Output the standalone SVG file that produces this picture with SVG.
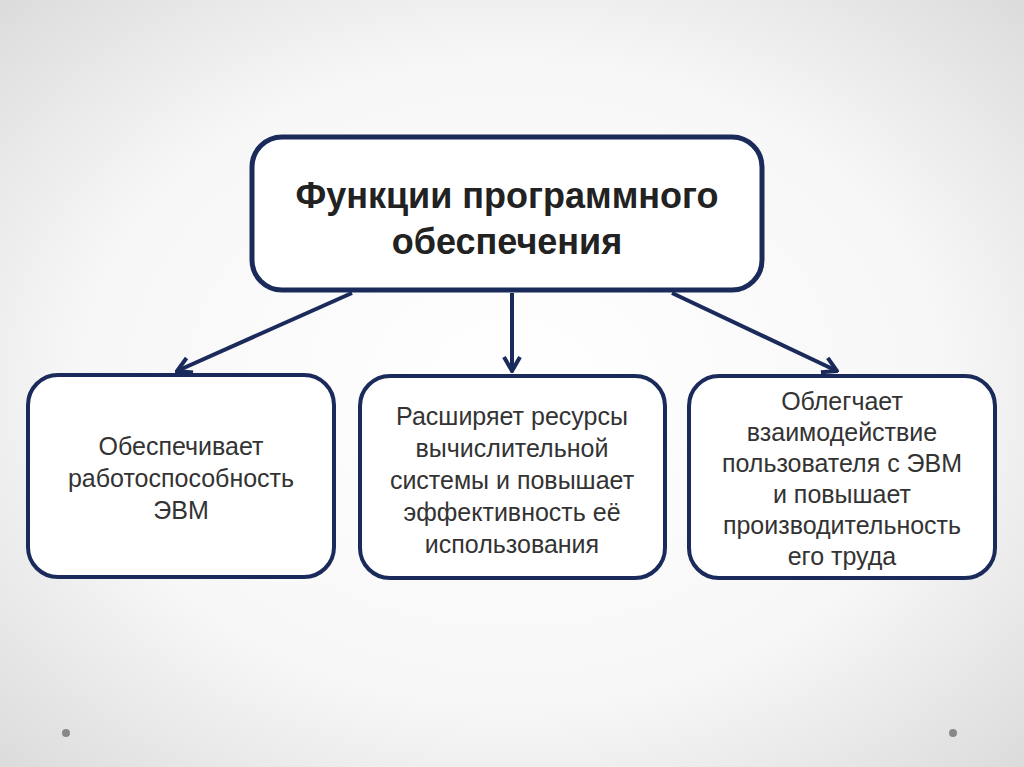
<svg xmlns="http://www.w3.org/2000/svg" width="1024" height="767" viewBox="0 0 1024 767">
<defs>
<radialGradient id="bg" cx="50%" cy="50%" r="70%">
<stop offset="0" stop-color="#ffffff"/><stop offset="0.6" stop-color="#f7f7f7"/><stop offset="1" stop-color="#dcdcdc"/>
</radialGradient>
<marker id="ah" viewBox="0 0 20 20" refX="18" refY="10" markerWidth="20" markerHeight="20" orient="auto" markerUnits="userSpaceOnUse">
<path d="M4,2 L18,10 L4,18" fill="none" stroke="#1a2a5a" stroke-width="4" stroke-linejoin="miter"/>
</marker>
<style>
.box{fill:#fff;stroke:#1a2a5a;stroke-width:4}
.t{font-family:"Liberation Sans",Arial,sans-serif;font-size:25px;fill:#333;text-anchor:middle}
.h{font-family:"Liberation Sans",Arial,sans-serif;font-size:36px;font-weight:bold;fill:#222;text-anchor:middle}
.c{stroke:#1a2a5a;stroke-width:4;fill:none;marker-end:url(#ah)}
</style>
</defs>
<rect width="1024" height="767" fill="url(#bg)"/>
<circle cx="66" cy="733" r="4" fill="#888"/>
<circle cx="953" cy="733" r="4" fill="#888"/>
<g id="connectors">
<line class="c" x1="352" y1="293" x2="177" y2="371"/>
<line class="c" x1="512" y1="293" x2="512" y2="371"/>
<line class="c" x1="672" y1="293" x2="837" y2="371"/>
</g>
<g id="root">
<rect class="box" x="252" y="137" width="510" height="153" rx="30" style="stroke-width:5"/>
<text class="h" x="507" y="208">Функции программного</text>
<text class="h" x="507" y="254">обеспечения</text>
</g>
<g id="n1">
<rect class="box" x="28" y="375" width="306" height="202" rx="30"/>
<text class="t" x="181" y="455">Обеспечивает</text>
<text class="t" x="181" y="487">работоспособность</text>
<text class="t" x="181" y="519">ЭВМ</text>
</g>
<g id="n2">
<rect class="box" x="360" y="376" width="305" height="202" rx="30"/>
<text class="t" x="512" y="425">Расширяет ресурсы</text>
<text class="t" x="512" y="457">вычислительной</text>
<text class="t" x="512" y="489">системы и повышает</text>
<text class="t" x="512" y="521">эффективность её</text>
<text class="t" x="512" y="553">использования</text>
</g>
<g id="n3">
<rect class="box" x="689" y="376" width="306" height="202" rx="30"/>
<text class="t" x="842" y="410">Облегчает</text>
<text class="t" x="842" y="441">взаимодействие</text>
<text class="t" x="842" y="472">пользователя с ЭВМ</text>
<text class="t" x="842" y="503">и повышает</text>
<text class="t" x="842" y="534">производительность</text>
<text class="t" x="842" y="565">его труда</text>
</g>
</svg>
